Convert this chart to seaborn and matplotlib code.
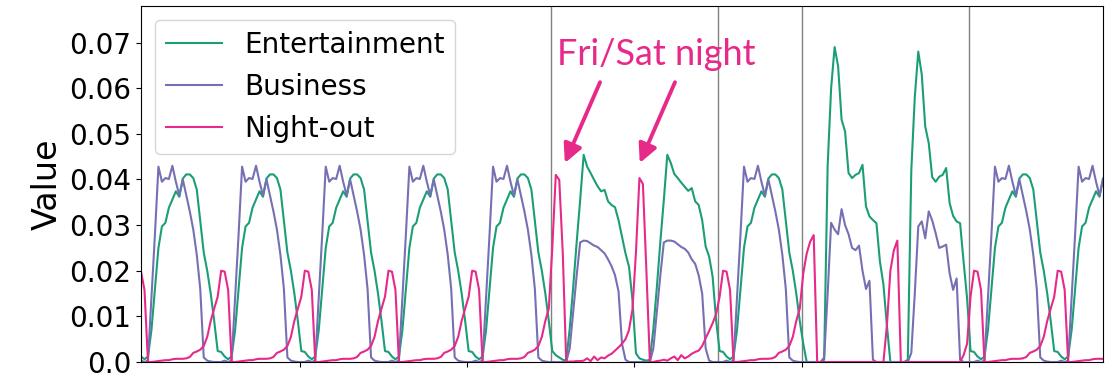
import matplotlib.pyplot as plt
import numpy as np
import pandas as pd
import seaborn as sns

# hourly profiles, one value per clock hour (k = 0..23, sampled at k:30)
ent_weekday = [0.0024, 0.0022, 0.0012, 0.0006, 0.0012, 0.0070, 0.0160, 0.0250, 0.0297, 0.0305, 0.0338, 0.0356,
               0.0374, 0.0362, 0.0402, 0.0411, 0.0411, 0.0403, 0.0378, 0.0310, 0.0240, 0.0200, 0.0150, 0.0090]
bus_weekday = [0.0, 0.0, 0.0003, 0.0, 0.0003, 0.0140, 0.0280, 0.0428, 0.0395, 0.0403, 0.0401, 0.0430,
               0.0395, 0.0365, 0.0400, 0.0365, 0.0330, 0.0290, 0.0235, 0.0160, 0.0010, 0.0003, 0.0001, 0.0]
night_weekday = [0.0143, 0.0200, 0.0198, 0.0158, 0.0, 0.0, 0.0001, 0.0002, 0.0003, 0.0004, 0.0004, 0.0006,
                 0.0007, 0.0007, 0.0007, 0.0008, 0.0011, 0.0020, 0.0023, 0.0027, 0.0035, 0.0055, 0.0090, 0.0117]

ent_sat = [0.0024, 0.0015, 0.0010, 0.0005, 0.0003, 0.0073, 0.0164, 0.0263, 0.0355, 0.0454, 0.0428, 0.0414,
           0.0399, 0.0385, 0.0374, 0.0377, 0.0352, 0.0344, 0.0339, 0.0311, 0.0275, 0.0238, 0.0209, 0.0136]
bus_sat = [0.0, 0.0, 0.0, 0.0, 0.0, 0.0030, 0.0110, 0.0190, 0.0262, 0.0266, 0.0265, 0.0260,
           0.0255, 0.0252, 0.0245, 0.0238, 0.0225, 0.0210, 0.0190, 0.0155, 0.0040, 0.0005, 0.0, 0.0]
night_sat = [0.0250, 0.0410, 0.0399, 0.0240, 0.0, 0.0001, 0.0001, 0.0002, 0.0002, 0.0003, 0.0008, 0.0002,
             0.0012, 0.0004, 0.0010, 0.0008, 0.0014, 0.0018, 0.0025, 0.0032, 0.0040, 0.0050, 0.0070, 0.0115]

ent_sun = [0.0019, 0.0008, 0.0005, 0.0003, 0.0005, 0.0073, 0.0164, 0.0263, 0.0355, 0.0454, 0.0436, 0.0412,
           0.0403, 0.0393, 0.0384, 0.0375, 0.0381, 0.0352, 0.0344, 0.0311, 0.0253, 0.0231, 0.0187, 0.0092]
bus_sun = [0.0, 0.0, 0.0, 0.0, 0.0, 0.0030, 0.0110, 0.0190, 0.0262, 0.0266, 0.0266, 0.0264,
           0.0258, 0.0252, 0.0248, 0.0240, 0.0225, 0.0215, 0.0190, 0.0150, 0.0030, 0.0003, 0.0, 0.0]
night_sun = [0.0240, 0.0403, 0.0390, 0.0200, 0.0, 0.0, 0.0002, 0.0003, 0.0005, 0.0003, 0.0008, 0.0012,
             0.0004, 0.0015, 0.0008, 0.0012, 0.0018, 0.0022, 0.0025, 0.0035, 0.0052, 0.0068, 0.0085, 0.0105]

ent_hol1 = [0.0040, 0.0, 0.0, 0.0, 0.0, 0.0, 0.0005, 0.0430, 0.0600, 0.0690, 0.0648, 0.0531,
            0.0505, 0.0414, 0.0403, 0.0410, 0.0414, 0.0432, 0.0341, 0.0319, 0.0311, 0.0304, 0.0220, 0.0170]
bus_hol1 = [0.0, 0.0, 0.0, 0.0, 0.0, 0.0, 0.0010, 0.0150, 0.0305, 0.0290, 0.0280, 0.0335,
            0.0300, 0.0280, 0.0250, 0.0245, 0.0255, 0.0200, 0.0160, 0.0178, 0.0005, 0.0, 0.0, 0.0]
night_hol1 = [0.0194, 0.0238, 0.0264, 0.0278, 0.0, 0.0, 0.0, 0.0, 0.0, 0.0, 0.0, 0.0,
              0.0, 0.0, 0.0, 0.0, 0.0, 0.0, 0.0, 0.0, 0.0, 0.0, 0.0, 0.0]

ent_hol2 = [0.0080, 0.0, 0.0, 0.0, 0.0, 0.0, 0.0005, 0.0420, 0.0580, 0.0680, 0.0630, 0.0516,
            0.0480, 0.0405, 0.0395, 0.0406, 0.0410, 0.0425, 0.0348, 0.0320, 0.0308, 0.0304, 0.0220, 0.0140]
bus_hol2 = [0.0, 0.0, 0.0, 0.0, 0.0, 0.0, 0.0, 0.0020, 0.0150, 0.0297, 0.0308, 0.0271,
            0.0330, 0.0310, 0.0282, 0.0250, 0.0253, 0.0257, 0.0194, 0.0158, 0.0183, 0.0005, 0.0, 0.0]
night_hol2 = [0.0080, 0.0200, 0.0245, 0.0266, 0.0, 0.0, 0.0, 0.0, 0.0, 0.0, 0.0, 0.0,
              0.0, 0.0, 0.0, 0.0, 0.0, 0.0, 0.0, 0.0, 0.0, 0.0, 0.0015, 0.0040]

days = ["weekday"] * 5 + ["sat", "sun", "weekday", "hol1", "hol2", "weekday", "weekday"]
first_slot = 2      # series starts at 02:30 on day 0
n_points = 277
day_marks = [120, 168, 192, 240]       # hours since day 0 midnight
tick_hours = [48, 96, 144, 192, 240]
y_ticks = [0.0, 0.01, 0.02, 0.03, 0.04, 0.05, 0.06, 0.07]

profiles = {
    "Entertainment": {"weekday": ent_weekday, "sat": ent_sat, "sun": ent_sun, "hol1": ent_hol1, "hol2": ent_hol2},
    "Business": {"weekday": bus_weekday, "sat": bus_sat, "sun": bus_sun, "hol1": bus_hol1, "hol2": bus_hol2},
    "Night-out": {"weekday": night_weekday, "sat": night_sat, "sun": night_sun, "hol1": night_hol1,
                  "hol2": night_hol2},
}
colors = {"Entertainment": "#1b9e77", "Business": "#7570b3", "Night-out": "#e7298a"}
pink = "#e7298a"

hours = np.arange(24 * len(days)) + 0.5
frames = []
for name, prof in profiles.items():
    vals = np.concatenate([prof[d] for d in days])
    sl = slice(first_slot, first_slot + n_points)
    frames.append(pd.DataFrame({"hour": hours[sl], "value": vals[sl], "series": name}))
df = pd.concat(frames, ignore_index=True)

fig = plt.figure(figsize=(11.12, 3.78), dpi=100)
ax = fig.add_axes([141 / 1112, 16 / 378, 962 / 1112, 356 / 378])

sns.lineplot(data=df, x="hour", y="value", hue="series", palette=colors,
             hue_order=list(profiles), linewidth=1.5, ax=ax)
leg = ax.get_legend()
handles = leg.legend_handles
labels = [t.get_text() for t in leg.get_texts()]
ax.legend(handles, labels, loc="upper left", fontsize=20)

for h in day_marks:
    ax.axvline(h, color="grey", lw=1, zorder=0)

ax.set_xlim(hours[first_slot], hours[first_slot + n_points - 1])
ax.set_ylim(0, 0.078)
ax.set_xticks(tick_hours)
ax.set_xticklabels([])
ax.set_xlabel("")
ax.set_yticks(y_ticks)
ax.set_yticklabels([str(round(t, 2)) for t in y_ticks], fontsize=20)
ax.set_ylabel("Value", fontsize=24)

ax.text(121.8, 0.0651, "Fri/Sat night", color=pink, fontsize=26, family="Lato",
        ha="left", va="baseline")
for tail, tip in [((134.2, 0.0613), (124.1, 0.0436)), ((155.7, 0.0613), (145.6, 0.0436))]:
    ax.annotate("", xy=tip, xytext=tail,
                arrowprops=dict(arrowstyle="-|>", color=pink, lw=2.8, mutation_scale=28,
                                shrinkA=0, shrinkB=0))

fig.savefig("out.png", dpi=100)
